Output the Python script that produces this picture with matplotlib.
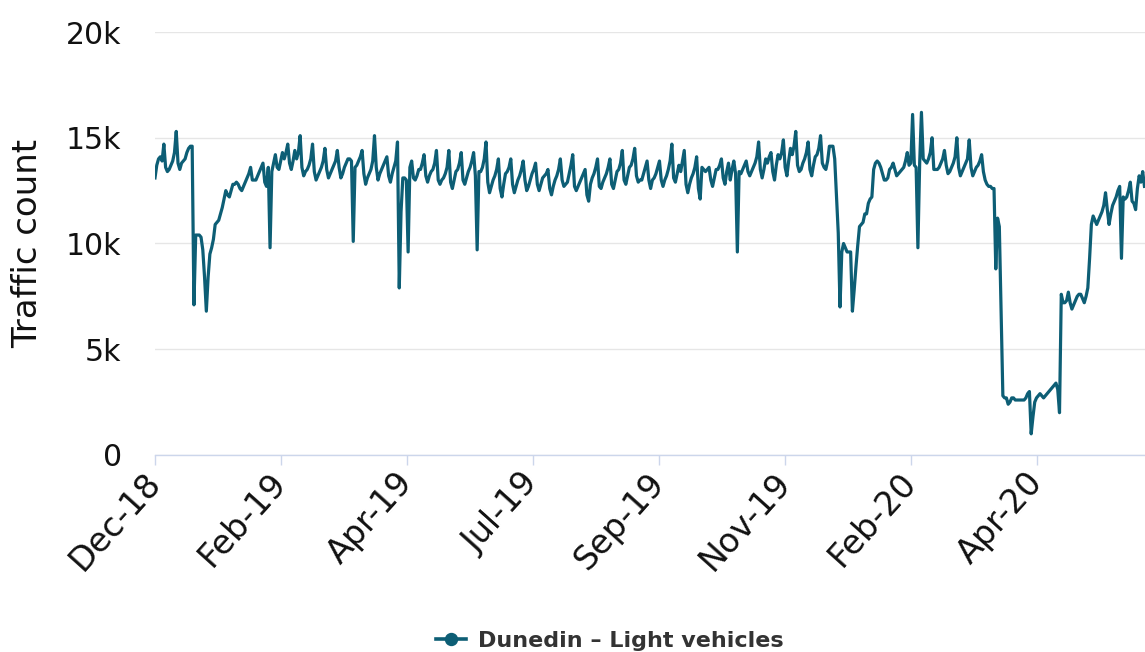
import numpy as np
import matplotlib.pyplot as plt
from matplotlib.lines import Line2D

# Daily light vehicle counts (thousands), one row per week, first day Mon 3 Dec 2018
WEEKS = [
    [13.1, 13.7, 14.0, 14.1, 13.9, 14.7, 13.6],
    [13.4, 13.5, 13.7, 13.9, 14.3, 15.3, 13.8],
    [13.5, 13.8, 13.9, 14.0, 14.3, 14.5, 14.6],
    [14.6, 7.1, 10.4, 10.4, 10.4, 10.3, 9.7],
    [8.4, 6.8, 8.4, 9.5, 9.8, 10.2, 10.9],
    [11.0, 11.1, 11.4, 11.7, 12.1, 12.5, 12.3],
    [12.2, 12.5, 12.8, 12.8, 12.9, 12.8, 12.6],
    [12.5, 12.7, 12.9, 13.1, 13.3, 13.6, 13.0],
    [13.0, 13.0, 13.2, 13.4, 13.6, 13.8, 12.9],
    [12.7, 13.6, 9.8, 13.4, 13.8, 14.2, 13.6],
    [13.5, 13.9, 14.3, 14.0, 14.3, 14.7, 13.8],
    [13.5, 13.9, 14.4, 14.0, 14.3, 15.1, 13.6],
    [13.2, 13.4, 13.5, 13.7, 14.0, 14.7, 13.4],
    [13.0, 13.2, 13.4, 13.6, 13.9, 14.5, 13.5],
    [13.1, 13.3, 13.5, 13.7, 13.9, 14.4, 13.6],
    [13.1, 13.3, 13.6, 13.8, 14.0, 14.0, 13.9],
    [10.1, 13.6, 13.7, 13.9, 14.1, 14.4, 13.3],
    [12.8, 13.1, 13.3, 13.5, 13.9, 15.1, 13.6],
    [13.0, 13.3, 13.5, 13.7, 13.9, 14.1, 13.2],
    [12.9, 13.3, 13.6, 13.9, 14.8, 7.9, 11.5],
    [13.1, 13.1, 13.0, 9.6, 13.6, 13.9, 13.1],
    [13.0, 13.2, 13.5, 13.5, 13.8, 14.2, 13.2],
    [12.9, 13.2, 13.4, 13.5, 13.8, 14.4, 13.0],
    [12.8, 13.0, 13.1, 13.3, 13.6, 14.4, 12.9],
    [12.6, 13.0, 13.4, 13.5, 13.8, 14.3, 13.0],
    [12.8, 13.1, 13.4, 13.6, 13.9, 14.3, 13.2],
    [9.7, 13.4, 13.4, 13.6, 14.0, 14.8, 12.9],
    [12.4, 12.7, 13.0, 13.2, 13.5, 14.0, 12.6],
    [12.2, 12.8, 13.3, 13.4, 13.6, 14.0, 12.8],
    [12.4, 12.7, 13.0, 13.2, 13.5, 13.9, 13.0],
    [12.5, 12.7, 13.0, 13.3, 13.5, 13.8, 12.8],
    [12.5, 12.8, 13.1, 13.2, 13.3, 13.5, 12.6],
    [12.3, 12.7, 13.0, 13.2, 13.5, 14.0, 13.0],
    [12.7, 12.8, 12.9, 13.3, 13.7, 14.2, 12.7],
    [12.5, 12.7, 12.9, 13.1, 13.3, 13.5, 12.3],
    [12.0, 12.8, 13.1, 13.3, 13.6, 14.0, 12.7],
    [12.6, 12.9, 13.1, 13.3, 13.6, 14.0, 12.8],
    [12.6, 13.0, 13.4, 13.5, 13.8, 14.4, 13.0],
    [12.8, 13.2, 13.6, 13.7, 14.0, 14.5, 13.2],
    [12.9, 13.0, 13.0, 13.3, 13.6, 13.9, 13.0],
    [12.6, 13.0, 13.1, 13.3, 13.6, 13.9, 13.0],
    [12.7, 13.0, 13.2, 13.5, 13.9, 14.7, 13.1],
    [12.9, 13.3, 13.7, 13.4, 13.9, 14.4, 12.8],
    [12.4, 12.8, 13.1, 13.3, 13.6, 14.1, 12.6],
    [12.1, 13.6, 13.5, 13.4, 13.5, 13.6, 13.0],
    [12.7, 13.1, 13.5, 13.5, 13.7, 14.0, 13.1],
    [12.8, 13.4, 13.8, 13.0, 13.5, 13.9, 13.3],
    [9.6, 13.4, 13.3, 13.5, 13.7, 13.9, 13.4],
    [13.2, 13.4, 13.6, 13.8, 14.1, 14.8, 13.5],
    [13.1, 13.5, 14.0, 13.8, 14.1, 14.3, 13.4],
    [13.0, 13.7, 14.2, 14.0, 14.3, 14.9, 13.6],
    [13.2, 13.9, 14.5, 14.2, 14.6, 15.3, 13.7],
    [13.4, 13.5, 13.8, 14.0, 14.3, 14.8, 13.5],
    [13.2, 13.7, 14.1, 14.2, 14.5, 15.1, 13.8],
    [13.6, 13.5, 13.9, 14.6, 14.6, 14.6, 14.0],
    [12.2, 10.5, 7.0, 9.6, 10.0, 9.8, 9.6],
    [9.6, 9.6, 6.8, 7.8, 8.9, 9.9, 10.8],
    [10.9, 11.0, 11.4, 11.4, 11.9, 12.1, 12.2],
    [13.5, 13.8, 13.9, 13.8, 13.6, 13.3, 13.0],
    [13.0, 13.1, 13.5, 13.6, 13.8, 13.5, 13.2],
    [13.3, 13.4, 13.5, 13.6, 13.9, 14.3, 13.7],
    [13.8, 16.1, 13.7, 13.6, 9.8, 13.8, 16.2],
    [14.0, 13.9, 13.8, 14.0, 14.3, 15.0, 13.5],
    [13.5, 13.5, 13.6, 13.8, 14.0, 14.4, 13.7],
    [13.3, 13.4, 13.6, 13.8, 14.1, 15.0, 13.6],
    [13.2, 13.4, 13.6, 13.8, 14.0, 14.9, 13.6],
    [13.2, 13.4, 13.6, 13.7, 13.9, 14.2, 13.4],
    [13.0, 12.8, 12.7, 12.7, 12.6, 12.6, 8.8],
    [11.2, 10.8, 6.8, 2.8, 2.7, 2.7, 2.4],
    [2.5, 2.7, 2.7, 2.6, 2.6, 2.6, 2.6],
    [2.6, 2.6, 2.7, 2.9, 3.0, 1.0, 1.8],
    [2.5, 2.7, 2.8, 2.9, 2.8, 2.7, 2.8],
    [2.9, 3.0, 3.1, 3.2, 3.3, 3.4, 3.1],
    [2.0, 7.6, 7.2, 7.2, 7.3, 7.7, 7.2],
    [6.9, 7.1, 7.3, 7.5, 7.6, 7.6, 7.4],
    [7.2, 7.5, 7.9, 9.3, 10.9, 11.3, 11.1],
    [10.9, 11.1, 11.3, 11.5, 11.8, 12.4, 11.6],
    [10.9, 11.4, 11.8, 12.0, 12.2, 12.5, 12.7],
    [9.3, 12.2, 12.1, 12.2, 12.5, 12.9, 12.0],
    [11.9, 11.6, 12.6, 13.2, 12.9, 13.4, 12.7],
]

TICK_DAYS = [0, 71.2, 142.4, 213.6, 284.8, 356.0, 427.2, 498.4]
TICK_LABELS = ["Dec-18", "Feb-19", "Apr-19", "Jul-19", "Sep-19", "Nov-19", "Feb-20", "Apr-20"]
Y_TICKS = [0, 5, 10, 15, 20]
Y_LABELS = ["0", "5k", "10k", "15k", "20k"]
SERIES_NAME = "Dunedin – Light vehicles"

LINE_COLOR = "#0d5e75"
plt.rcParams["font.family"] = ["DejaVu Sans"]

values = np.array([v for week in WEEKS for v in week])
days = np.arange(len(values))

fig = plt.figure(figsize=(11.45, 6.52), dpi=100)
ax = fig.add_axes([155 / 1145, 197 / 652, 990 / 1145, 423 / 652])

ax.plot(days, values, color=LINE_COLOR, lw=2.3, solid_joinstyle="round")

ax.set_xlim(0, 559.3)
ax.set_ylim(0, 20)
ax.set_yticks(Y_TICKS, Y_LABELS)
ax.set_xticks(TICK_DAYS, TICK_LABELS, rotation=48, ha="right", va="center",
              rotation_mode="anchor")

ax.grid(axis="y", color="#e6e6e6", lw=1)
ax.set_axisbelow(True)
for side in ["top", "right", "left"]:
    ax.spines[side].set_visible(False)
ax.spines["bottom"].set_color("#ccd6eb")
ax.spines["bottom"].set_linewidth(1)

ax.tick_params(axis="y", length=0, pad=24, labelsize=21.5, labelcolor="#111111")
ax.tick_params(axis="x", length=7, width=1, color="#ccd6eb", pad=9,
               labelsize=24, labelcolor="#111111")

ax.set_ylabel("Traffic count", fontsize=24.5, color="#111111")
ax.yaxis.set_label_coords(-0.112, 0.5)

handle = Line2D([], [], color=LINE_COLOR, lw=2.6, marker="o", markersize=8.6)
fig.legend([handle], [SERIES_NAME], loc="center", bbox_to_anchor=(610 / 1145, 1 - 641 / 652),
           frameon=False, prop={"size": 16, "weight": "bold"}, labelcolor="#333333",
           handlelength=1.35, handletextpad=0.55)

fig.savefig("out.png", dpi=100)
